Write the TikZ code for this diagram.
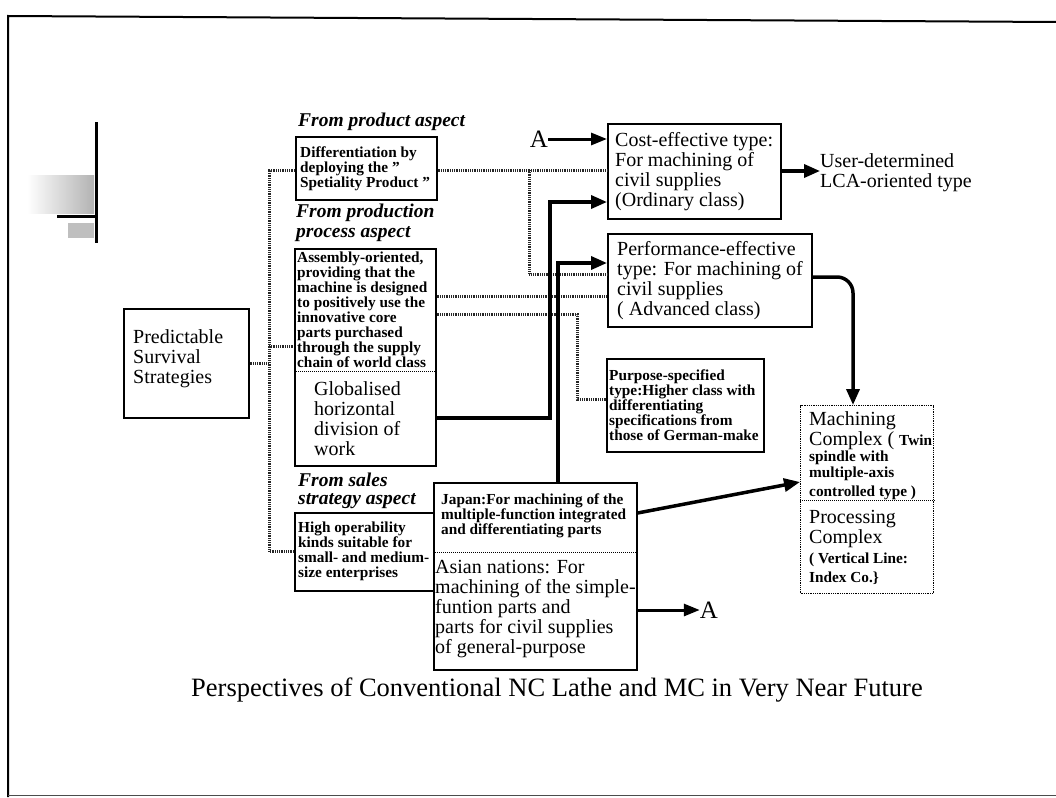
\documentclass[tikz,border=0pt]{standalone}
\usepackage{fontspec}
\setmainfont{Liberation Serif}
\usetikzlibrary{arrows.meta,calc}

\newcommand{\dq}{\symbol{34}}

\tikzset{
  box/.style={draw, line width=1.6pt, anchor=north west, inner sep=0pt},
  txt/.style={anchor=west, align=left, inner sep=0pt},
  smallbold/.style={font=\fontsize{15.3}{15}\selectfont\bfseries},
  plain/.style={font=\fontsize{20}{20}\selectfont},
  lineb/.style={anchor=base west, inner sep=0pt, font=\fontsize{15.3}{15}\selectfont\bfseries},
  linep/.style={anchor=base west, inner sep=0pt, font=\fontsize{20}{20}\selectfont},
  header/.style={anchor=west, inner sep=0pt, font=\fontsize{19.5}{21}\selectfont\bfseries\itshape},
  divider/.style={line width=1pt, dash pattern=on 1pt off 1pt},
  dotline/.style={line width=3pt, dash pattern=on 0.9pt off 0.9pt, black!85},
  thickarrow/.style={line width=3.5pt, -{Triangle[length=16pt,width=13pt]}},
  thinarrow/.style={line width=3pt, -{Triangle[length=16pt,width=12pt]}},
}

\begin{document}
\begin{tikzpicture}[x=1pt,y=-1pt]
\useasboundingbox (0,0) rectangle (1056,797);

% page frame
\draw[line width=2pt] (8,797) -- (8,16) -- (1056,22);
\draw[line width=1pt, black!70] (8,795) -- (1056,795);

% corner ornament
\shade[left color=white, right color=black!30] (27,175) rectangle (94,213);
\fill[black!25] (68,223) rectangle (94,238);
\draw[line width=3pt] (96,122) -- (96,243);
\draw[line width=3pt] (57,216) -- (96,216);

% ---------- boxes ----------
\node[box, minimum width=125pt, minimum height=109pt] (pred) at (123,308) {};
\node[box, minimum width=141pt, minimum height=63pt]  (box1) at (295,136) {};
\node[box, minimum width=141pt, minimum height=217pt] (box2) at (294,248) {};
\draw[divider] ($(box2.north west)+(0,123)$) -- ($(box2.north east)+(0,123)$);
\node[box, minimum width=139pt, minimum height=78pt]  (box3) at (294,512) {};
\node[box, minimum width=203pt, minimum height=187pt] (market) at (433,482) {};
\draw[divider] ($(market.north west)+(0,70)$) -- ($(market.north east)+(0,70)$);
\node[box, minimum width=173pt, minimum height=95pt]  (cost) at (607,123) {};
\node[box, minimum width=204pt, minimum height=93pt]  (perf) at (607,233) {};
\node[box, minimum width=157pt, minimum height=93pt]  (purpose) at (606,358) {};
\node[box, line width=1.3pt, dash pattern=on 1pt off 0.8pt,
      minimum width=133pt, minimum height=188pt] (mach) at (800,405) {};
\draw[divider] ($(mach.north west)+(0,95)$) -- ($(mach.north east)+(0,95)$);

% ---------- texts ----------
\node[txt, plain] (predtxt) at ($(pred.west)+(10,-5)$) {Predictable\\Survival\\Strategies};

\node[header] (hprod) at (298,122) {From product aspect};
\node[txt, smallbold] (box1txt) at ($(box1.west)+(5,0)$) {Differentiation by\\deploying the \dq\\Spetiality Product \dq};

\node[header] (hproc1) at (296,213) {From production};
\node[header] (hproc2) at (296,234) {process aspect};
\node[txt, smallbold] (assembly) at ($(box2.north west)+(3,61.5)$) {Assembly-oriented,\\providing that the\\machine is designed\\to positively use the\\innovative core\\parts purchased\\through the supply\\chain of world class};
\node[txt, plain] (global) at ($(box2.north west)+(20,171)$) {Globalised\\horizontal\\division of\\work};

\node[header] (hsale1) at (298,480) {From sales};
\node[header] (hsale2) at (298,501) {strategy aspect};
\node[txt, smallbold] (box3txt) at ($(box3.west)+(4,0)$) {High operability\\kinds suitable for\\small- and medium-\\size enterprises};

\node[txt, smallbold] (japan) at ($(market.north west)+(8,34)$) {Japan:For machining of the\\multiple-function integrated\\and differentiating parts};
\node[txt, plain] (asian) at ($(market.north west)+(2,127)$) {Asian nations: For\\machining of the simple-\\funtion parts and\\parts for civil supplies\\of general-purpose};

\node[txt, plain] (costtxt) at ($(cost.west)+(8,0)$) {Cost-effective type:\\For machining of\\civil supplies\\(Ordinary class)};
\node[txt, plain] (perftxt) at ($(perf.west)+(10,0)$) {Performance-effective\\type: For machining of\\civil supplies\\( Advanced class)};
\node[txt, smallbold] (purposetxt) at ($(purpose.west)+(3,0)$) {Purpose-specified\\type:Higher class with\\differentiating\\specifications from\\those of German-make};

\node[linep] (m1) at ($(mach.north west)+(9,20)$) {Machining};
\node[linep] (m2) at ($(mach.north west)+(9,40)$) {Complex ( {\fontsize{15.3}{15}\selectfont\bfseries Twin}};
\node[lineb] (m3) at ($(mach.north west)+(9,56)$) {spindle with};
\node[lineb] (m4) at ($(mach.north west)+(9,72)$) {multiple-axis};
\node[lineb] (m5) at ($(mach.north west)+(9,91)$) {controlled type )};
\node[linep] (p1) at ($(mach.north west)+(9,118)$) {Processing};
\node[linep] (p2) at ($(mach.north west)+(9,138)$) {Complex};
\node[lineb] (p3) at ($(mach.north west)+(9,158)$) {( Vertical Line:};
\node[lineb] (p4) at ($(mach.north west)+(9,177)$) {Index Co.\}};

\node[txt, plain] (user) at (820,173) {User-determined\\LCA-oriented type};

\node[font=\fontsize{25}{26}\selectfont, inner sep=0pt] (A1) at (539,139) {A};
\node[font=\fontsize{25}{26}\selectfont, inner sep=0pt] (A2) at (709,610) {A};

% ---------- strategy tree (dotted links) ----------
\coordinate (trunk) at (269,0);
\draw[dotline] (box1.west |- 0,170) -| (trunk |- box3.west) -- (box3.west);
\draw[dotline] (pred.east) -- (trunk |- pred.east);
\draw[dotline] (trunk |- 0,346) -- (box2.west |- 0,346);
\draw[dotline] (box1.east |- 0,170) -- (cost.west |- 0,170);
\draw[dotline] (529,170) |- (perf.west |- 0,274);
\draw[dotline] (box2.east |- 0,296) -- (perf.west |- 0,296);
\draw[dotline] (box2.east |- 0,314) -| (577,399) -- (purpose.west |- 0,399);

% ---------- development paths (solid arrows) ----------
\draw[thickarrow] (box2.east |- 0,418) -| (550,202) -- (cost.west |- 0,202);
\draw[thickarrow] (market.north -| 558,0) |- (perf.west |- 0,263);
\draw[thickarrow, rounded corners=16pt] (perf.east |- 0,277) -| (mach.north -| 853,0);
\draw[thickarrow] (market.east |- 0,513) -- (mach.west |- 0,482);
\draw[thickarrow] (cost.east |- 0,171) -- (user.west |- 0,171);
\draw[thinarrow] (A1.east) -- (cost.west |- A1.east);
\draw[thinarrow] (market.east |- A2.west) -- (A2.west);

% caption
\node[font=\fontsize{26.5}{30}\selectfont, inner sep=0pt] (caption) at (557,690)
  {Perspectives of Conventional NC Lathe and MC in Very Near Future};
\end{tikzpicture}
\end{document}
